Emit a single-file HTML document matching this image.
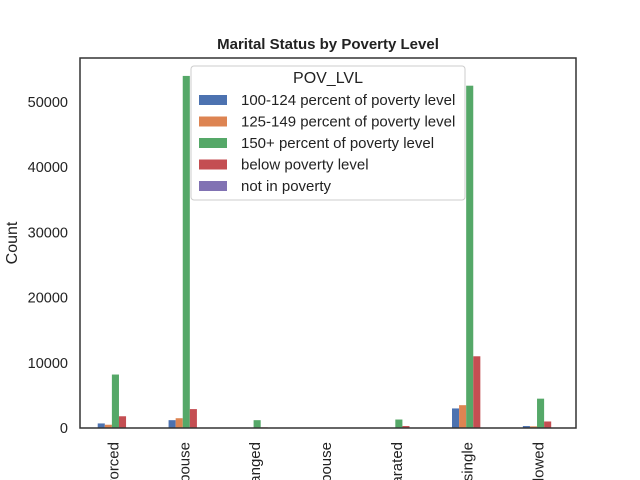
<!DOCTYPE html>
<html><head><meta charset="utf-8"><style>html,body{margin:0;background:#fff;overflow:hidden;width:640px;height:480px}svg{font-family:"Liberation Sans",sans-serif;display:block}</style></head>
<body>
<svg id="c" width="640" height="480"></svg>
<script>
const categories=["divorced","married spouse","arranged","civilian spouse","separated","single","widowed"];
const seriesNames=["100-124 percent of poverty level","125-149 percent of poverty level","150+ percent of poverty level","below poverty level","not in poverty"];
const s100=[700,1200,30,10,60,3000,300];
const s125=[500,1500,30,10,60,3500,250];
const s150=[8200,54000,1200,50,1300,52500,4500];
const sBelow=[1800,2900,100,20,300,11000,1000];
const sNot=[0,0,0,0,0,0,0];
const yTicks=[0,10000,20000,30000,40000,50000];
const colors=["#4c72b0","#dd8452","#55a868","#c44e52","#8172b3"];
const series=[s100,s125,s150,sBelow,sNot];
const L=80,R=576,T=58,B=428;
const y=v=>B-v*(326/50000);
const step=(R-L)/categories.length;
const xc=i=>L+step*(i+0.5);
const bw=step*0.5/5;
const svg=document.getElementById('c');
const NS="http://www.w3.org/2000/svg";
function mk(t,a,p){const e=document.createElementNS(NS,t);for(const k in a)e.setAttribute(k,a[k]);(p||svg).appendChild(e);return e;}
series.forEach((s,j)=>s.forEach((v,i)=>{
 const r=mk('rect',{x:xc(i)-step*0.25+j*bw,y:y(v),width:bw,height:B-y(v),fill:colors[j]});
 
 
}));
const frame=mk('rect',{x:L,y:T,width:R-L,height:B-T,fill:'none',stroke:'#333',"stroke-width":1.5});


yTicks.forEach(v=>{
 const t=mk('text',{x:L-12,y:y(v)+5,"text-anchor":"end","font-size":14.5,fill:'#222'});
 t.textContent=v;
 
 
});
categories.forEach((c,i)=>{
 const t=mk('text',{transform:`translate(${xc(i)+3},442) rotate(-90)`,"text-anchor":"end","font-size":15,fill:'#222'});
 t.textContent=c;
 
 
});
const yl=mk('text',{transform:'translate(17,243) rotate(-90)',"text-anchor":"middle","font-size":16,fill:'#222'});
yl.textContent='Count';


const ti=mk('text',{x:328,y:49,"text-anchor":"middle","font-size":15,"font-weight":"bold",fill:'#222'});
ti.textContent='Marital Status by Poverty Level';


const lg=mk('g',{});


mk('rect',{x:191,y:66,width:274,height:134,rx:3,fill:'#fff',"fill-opacity":0.85,stroke:'#ccc'},lg);
const lt=mk('text',{x:328,y:83,"text-anchor":"middle","font-size":16,fill:'#222'},lg);
lt.textContent='POV_LVL';
seriesNames.forEach((n,j)=>{
 const yy=100+j*21.5;
 const p=mk('rect',{x:199,y:yy-5,width:28,height:10,fill:colors[j]},lg);
 
 
 const t=mk('text',{x:241,y:yy+5,"font-size":15,fill:'#222'},lg);
 t.textContent=n;
 
 
});
</script>
</body></html>
